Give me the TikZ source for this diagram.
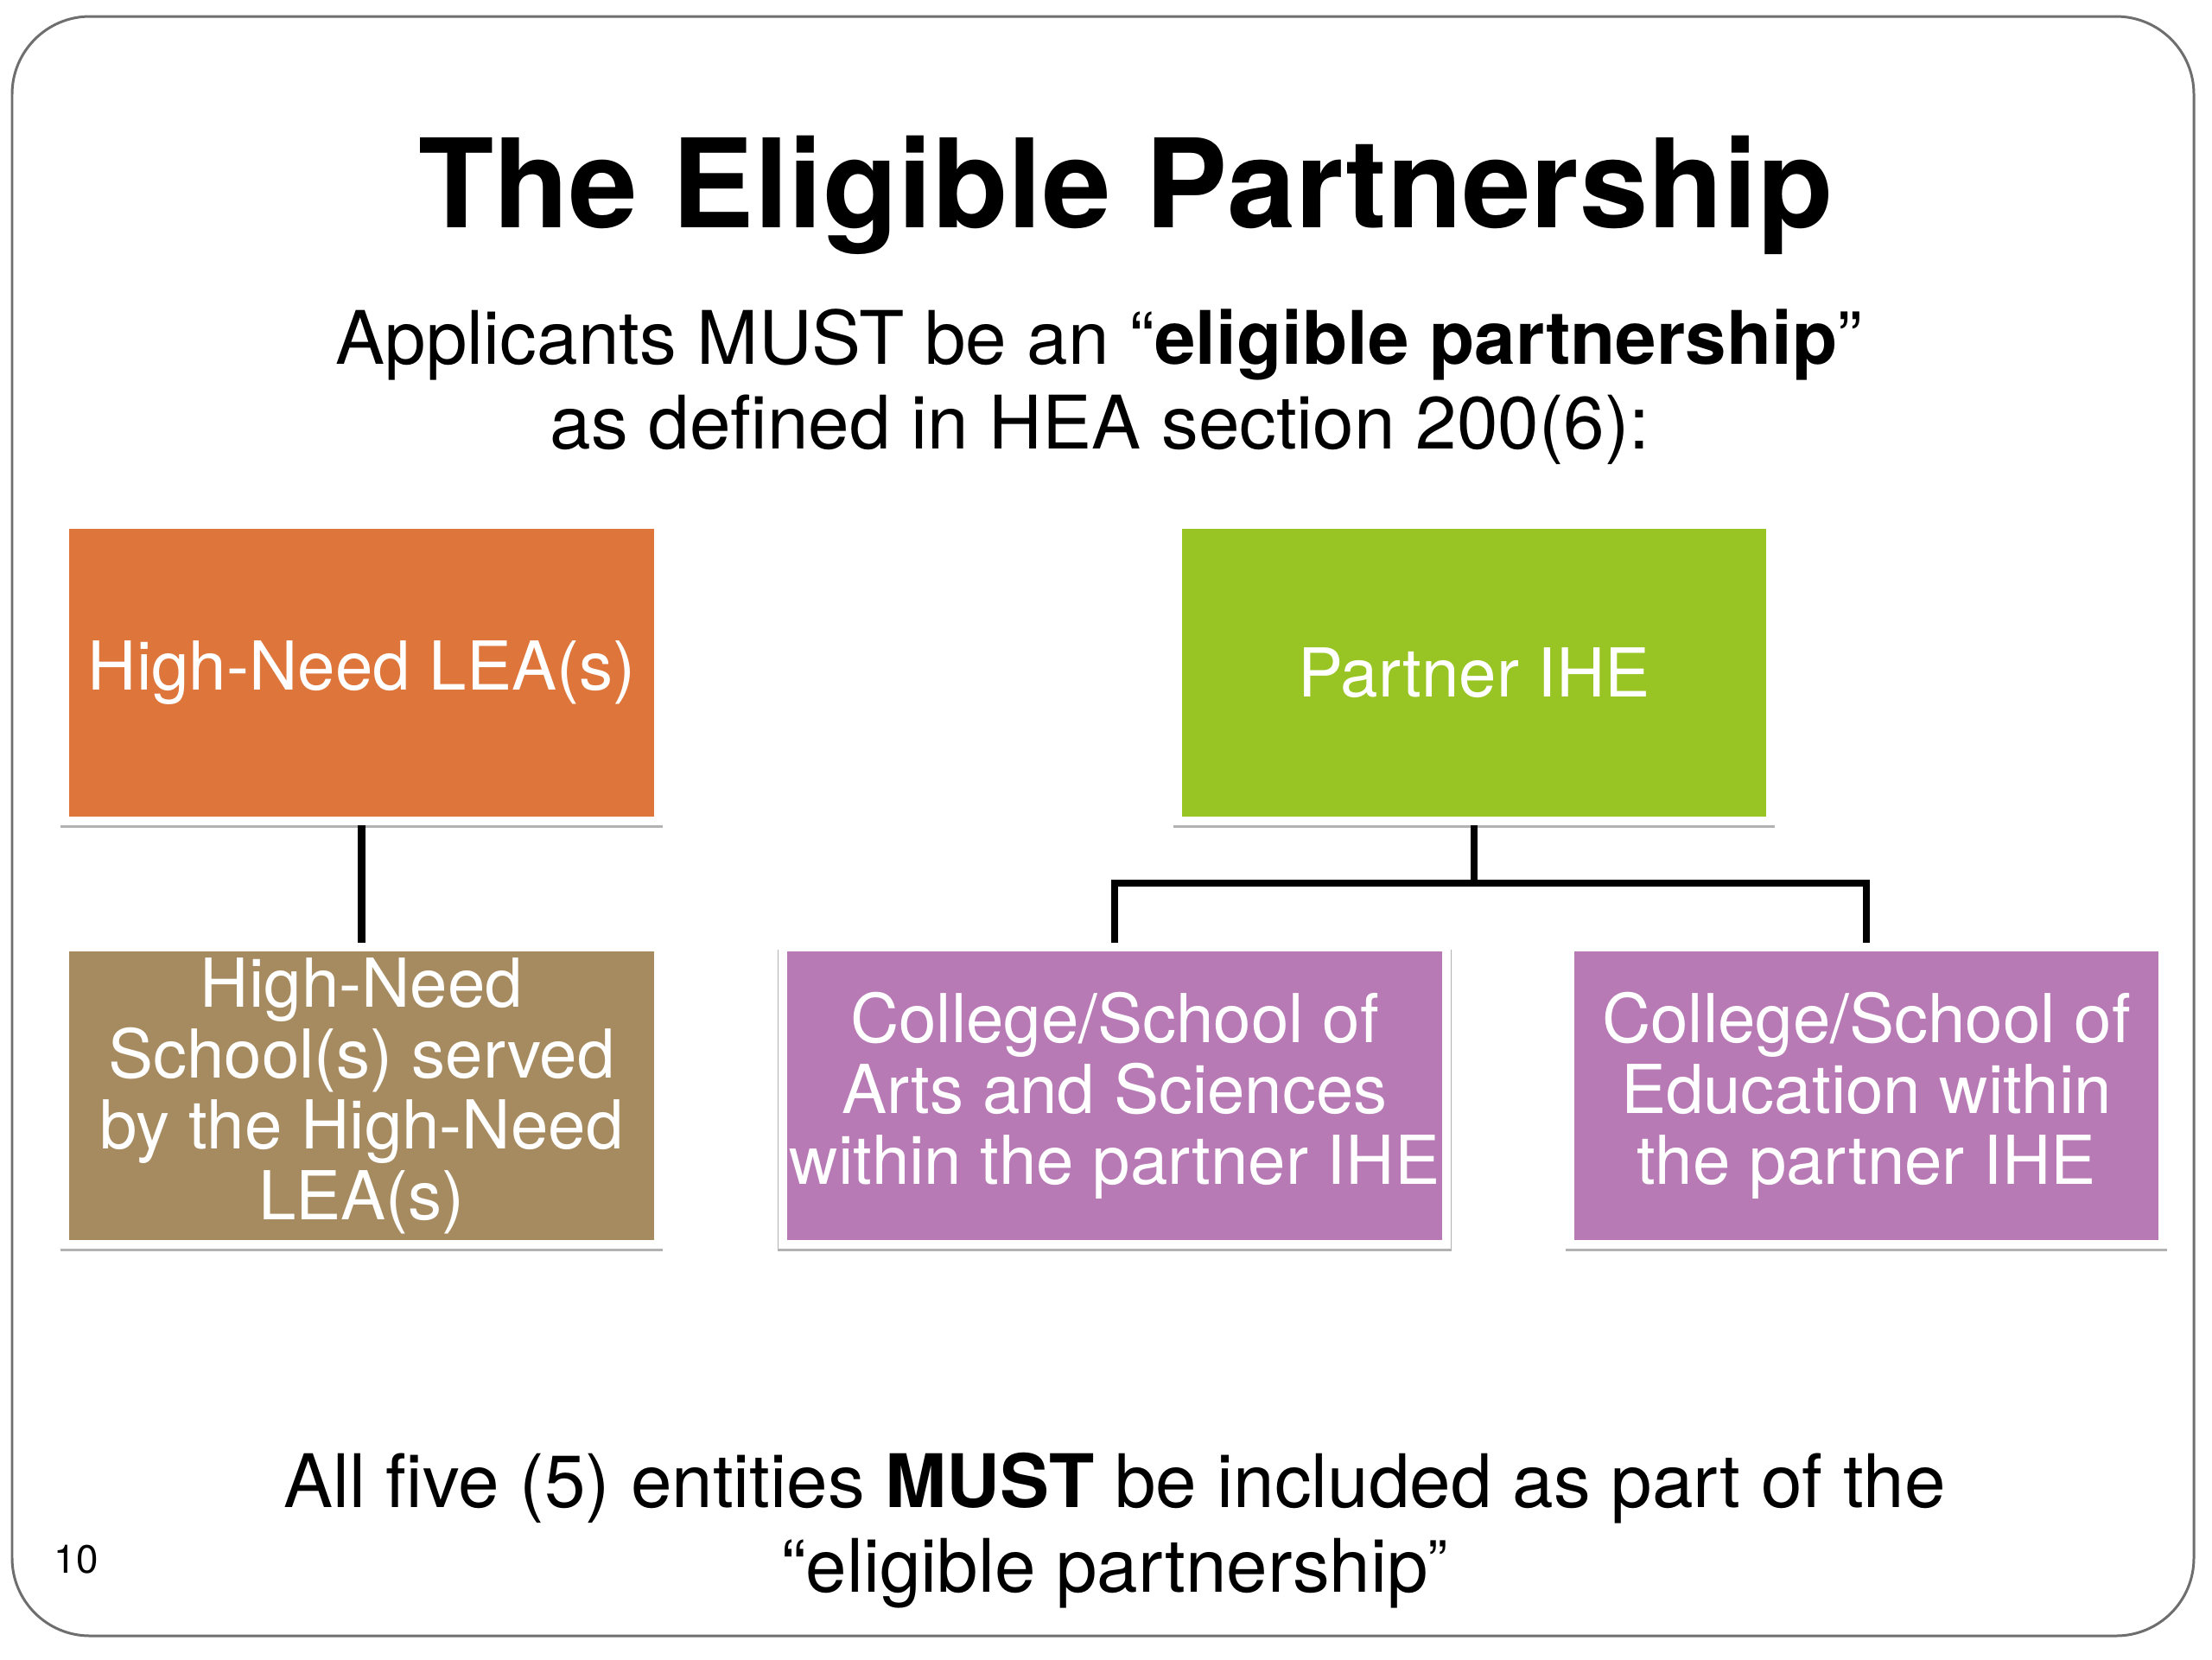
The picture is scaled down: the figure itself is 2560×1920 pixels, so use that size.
\documentclass[tikz,border=0pt]{standalone}
\usepackage{fontspec}
\setmainfont{TeX Gyre Heros}
\usetikzlibrary{shadows}
\definecolor{leaorange}{RGB}{222,117,58}
\definecolor{schoolbrown}{RGB}{167,139,96}
\definecolor{ihegreen}{RGB}{153,197,36}
\definecolor{collpurple}{RGB}{183,122,181}
\definecolor{framegray}{RGB}{110,110,110}
\begin{document}
\begin{tikzpicture}[x=0.01cm,y=-0.01cm,
  box/.style={draw=white, line width=0.1cm, minimum height=3.43cm, inner sep=0pt,
    align=center, text=white, font=\fontsize{22.2}{23.3}\selectfont,
    drop shadow={shadow xshift=0pt, shadow yshift=-0.055cm, shadow scale=1.015, opacity=0.6, fill=black!50}},
  link/.style={line width=2.4pt, draw=black},
  txt/.style={anchor=base, inner sep=0pt, font=\fontsize{24.3}{28}\selectfont}]
\useasboundingbox (0,0) rectangle (2560,1920);
\fill[white] (0,0) rectangle (2560,1920);
\draw[line width=0.85pt, draw=framegray, rounded corners=0.9cm] (14,19) rectangle (2539,1893);

\node[anchor=base, inner sep=0pt, font=\fontsize{40.6}{48}\selectfont\bfseries] (title) at (1303,263) {The Eligible Partnership};
\node[txt] (sub1) at (1272,421) {Applicants MUST be an “\textbf{eligible partnership}”};
\node[txt] (sub2) at (1273,519) {as defined in HEA section 200(6):};

\node[box, fill=leaorange, minimum width=6.87cm] (lea) at (418.5,778.5) {High-Need LEA(s)};
\node[box, fill=schoolbrown, minimum width=6.87cm] (school) at (418.5,1268) {High-Need\\School(s) served\\by the High-Need\\LEA(s)};
\node[box, fill=ihegreen, minimum width=6.86cm] (ihe) at (1706,778.5) {Partner IHE};
\node[box, fill=collpurple, minimum width=7.68cm] (arts) at (1290,1268) {College/School of\\Arts and Sciences\\within the partner IHE};
\node[box, fill=collpurple, minimum width=6.86cm] (edu) at (2160,1268) {College/School of\\Education within\\the partner IHE};

\coordinate (bus) at (1706,1022);
\draw[link] (lea.south) -- (school.north);
\draw[link] (ihe.south) -- (bus);
\draw[link] (arts.north) |- (bus) -| (edu.north);

\node[txt] (bot1) at (1290,1744) {All five (5) entities \textbf{MUST} be included as part of the};
\node[txt] (bot2) at (1290,1842) {“eligible partnership\raisebox{3pt}{\fontsize{19.5}{20}\selectfont ”}};
\node[anchor=base west, inner sep=0pt, font=\fontsize{13}{15}\selectfont] (pagenum) at (62,1820) {10};
\end{tikzpicture}
\end{document}
